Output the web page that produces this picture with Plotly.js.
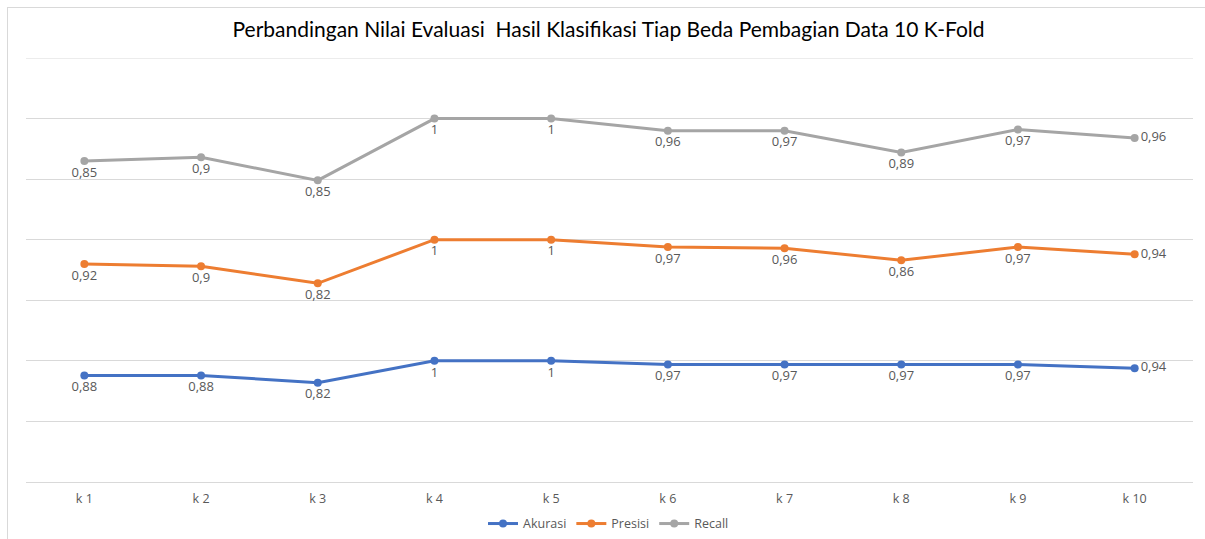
<!DOCTYPE html>
<html>
<head>
<meta charset="utf-8">
<script src="https://cdn.plot.ly/plotly-3.0.1.min.js"></script>
<style>
html,body{margin:0;padding:0;background:#fff;}
#wrap{position:relative;width:1205px;height:539px;}
#chart{width:1205px;height:539px;}
#frame{position:absolute;left:7px;top:7px;right:-2px;bottom:-2px;border:1px solid #D9D9D9;pointer-events:none;}
</style>
</head>
<body>
<div id="wrap"><div id="chart"></div><div id="frame"></div></div>
<script>
var categories = ["k 1","k 2","k 3","k 4","k 5","k 6","k 7","k 8","k 9","k 10"];
var akurasi = [0.88,0.88,0.82,1,1,0.97,0.97,0.97,0.97,0.94];
var presisi = [0.92,0.9,0.82,1,1,0.97,0.96,0.86,0.97,0.94];
var recall  = [0.85,0.9,0.85,1,1,0.96,0.97,0.89,0.97,0.96];
var seriesNames = ["Akurasi","Presisi","Recall"];
var seriesColors = ["#4472C4","#ED7D31","#A5A5A5"];

function fmt(v){ return String(v).replace('.', ','); }
function positions(n){ var p=[]; for(var i=0;i<n;i++){ p.push(i===n-1?'middle right':'bottom center'); } return p; }

var allSeries = [akurasi, presisi, recall];
var traces = allSeries.map(function(vals, i){
  return {
    x: categories,
    y: vals,
    name: seriesNames[i],
    type: 'scatter',
    mode: 'lines+markers+text',
    stackgroup: 'one',
    fill: 'none',
    line: {color: seriesColors[i], width: 3},
    marker: {color: seriesColors[i], size: 8},
    text: vals.map(fmt),
    textposition: positions(vals.length),
    textfont: {family: 'Open Sans, sans-serif', size: 13, color: '#595959'},
    cliponaxis: false,
    hoverinfo: 'x+y'
  };
});

var layout = {
  width: 1205, height: 539,
  margin: {l: 26, r: 12, t: 58, b: 57},
  paper_bgcolor: '#fff', plot_bgcolor: '#fff',
  title: {text: 'Perbandingan Nilai Evaluasi  Hasil Klasifikasi Tiap Beda Pembagian Data 10 K-Fold',
          font: {family: 'Lato, sans-serif', size: 21, color: '#000'},
          x: 0.505, xanchor: 'center', y: 0.945, yanchor: 'middle'},
  xaxis: {type: 'category', range: [-0.5, 9.5], showgrid: false, zeroline: false,
          showline: false, ticks: '', ticklen: 0, automargin: false, ticklabelstandoff: 7,
          tickfont: {family: 'Open Sans, sans-serif', size: 12.5, color: '#595959'}},
  yaxis: {range: [0, 3.5], dtick: 0.5, showgrid: true, gridcolor: '#D9D9D9', gridwidth: 1,
          showticklabels: false, zeroline: true, zerolinecolor: '#D9D9D9', zerolinewidth: 1,
          fixedrange: true, automargin: false},
  shapes: [{type: 'line', xref: 'paper', yref: 'y', x0: 0, x1: 1, y0: 3.5, y1: 3.5,
            line: {color: '#D9D9D9', width: 1}, layer: 'below'}],
  showlegend: true,
  legend: {orientation: 'h', x: 0.505, xanchor: 'center', xref: 'container',
           yref: 'container', y: 0.028, yanchor: 'middle',
           font: {family: 'Open Sans, sans-serif', size: 12.5, color: '#595959'}, traceorder: 'normal'}
};

Plotly.newPlot('chart', traces, layout, {displayModeBar: false, staticPlot: true});
</script>
</body>
</html>
